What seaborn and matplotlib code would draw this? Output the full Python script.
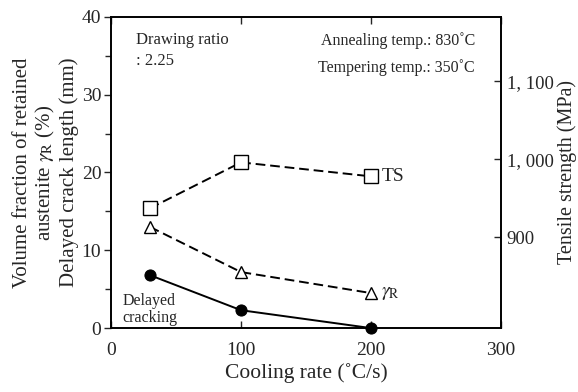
import matplotlib
matplotlib.use("Agg")
import matplotlib.pyplot as plt
import seaborn as sns
import pandas as pd
from matplotlib.ticker import MultipleLocator, FixedLocator, FuncFormatter

sns.set_style("ticks")
plt.rcParams["font.family"] = ["Liberation Serif", "DejaVu Serif"]
plt.rcParams["mathtext.fontset"] = "stix"

# Cooling rate (°C/s)
cooling_rate = [30, 100, 200]
# Tensile strength (MPa), right axis
tensile_strength = [937, 996, 978]
# Volume fraction of retained austenite (%)
retained_austenite = [13.0, 7.2, 4.5]
# Delayed crack length (mm)
crack_length = [6.8, 2.3, 0.0]

df = pd.DataFrame({
    "rate": cooling_rate,
    "ts": tensile_strength,
    "gamma": retained_austenite,
    "crack": crack_length,
})

fig = plt.figure(figsize=(5.78, 3.92), dpi=100)
ax = fig.add_axes([0.192, 0.163, 0.675, 0.794])
ax2 = ax.twinx()

sns.lineplot(data=df, x="rate", y="gamma", ax=ax, color="black", lw=1.4,
             linestyle=(0, (5, 2.5)), marker="^", markersize=9,
             markerfacecolor="white", markeredgecolor="black", markeredgewidth=1.0,
             clip_on=False, zorder=3)
sns.lineplot(data=df, x="rate", y="crack", ax=ax, color="black", lw=1.4,
             marker="o", markersize=8, markerfacecolor="black",
             markeredgecolor="black", clip_on=False, zorder=3)
sns.lineplot(data=df, x="rate", y="ts", ax=ax2, color="black", lw=1.4,
             linestyle=(0, (5, 2.5)), marker="s", markersize=10,
             markerfacecolor="white", markeredgecolor="black", markeredgewidth=1.0,
             clip_on=False, zorder=3)

ax.set_xlim(0, 300)
ax.set_ylim(0, 40)
ax2.set_ylim(783, 1183)

ax.xaxis.set_major_locator(FixedLocator([0, 100, 200, 300]))
ax.yaxis.set_major_locator(MultipleLocator(10))
ax.yaxis.set_minor_locator(MultipleLocator(5))
ax2.yaxis.set_major_locator(FixedLocator([900, 1000, 1100]))
ax2.yaxis.set_major_formatter(FuncFormatter(
    lambda v, p: f"{int(v):,}".replace(",", ", ") if v >= 1000 else f"{int(v)}"))

ax.tick_params(axis="x", direction="in", top=True, length=5, width=1.0,
               labelsize=14, pad=10)
ax.tick_params(axis="y", which="major", direction="out", length=5, width=1.0,
               labelsize=14, pad=2)
ax.tick_params(axis="y", which="minor", direction="out", length=4, width=1.0)
ax2.tick_params(axis="y", direction="in", length=5, width=1.0,
                labelsize=13.5, pad=4)

for a in (ax, ax2):
    for s in a.spines.values():
        s.set_linewidth(1.2)
        s.set_color("black")

ax.set_xlabel("Cooling rate (˚C/s)", fontsize=15.5, labelpad=3)
ax.set_ylabel("Volume fraction of retained\naustenite $\\gamma_{\\rm R}$ (%)\nDelayed crack length (mm)",
              fontsize=15, linespacing=1.12, labelpad=2)
ax2.set_ylabel("Tensile strength (MPa)", fontsize=14.5, labelpad=3)

ax.text(19, 38.1, "Drawing ratio\n: 2.25", fontsize=12, va="top", ha="left",
        linespacing=1.45)
ax.text(280, 38.1, "Annealing temp.: 830˚C\nTempering temp.: 350˚C", fontsize=11.5,
        va="top", ha="right", linespacing=1.85)
ax.text(9, 2.4, "Delayed\ncracking", fontsize=11.5, va="center", ha="left",
        linespacing=1.15)
ax.text(208, 19.5, "TS", fontsize=14, va="center", ha="left")
ax.text(208, 4.4, "$\\gamma_{\\rm R}$", fontsize=14, va="center", ha="left")

fig.savefig("out.png", dpi=100)
